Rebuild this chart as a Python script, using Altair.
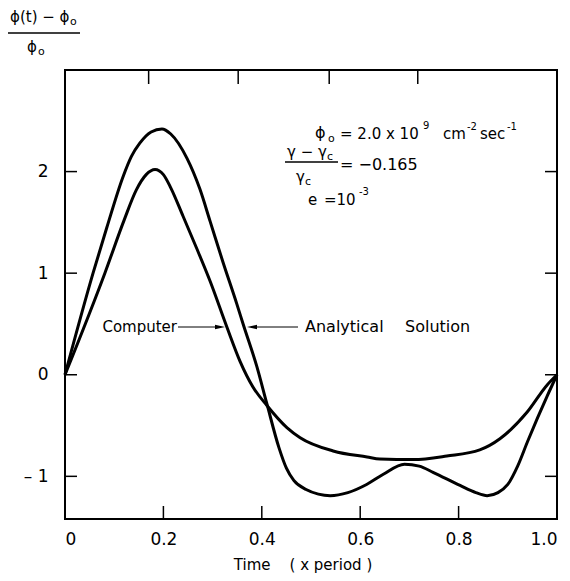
import altair as alt
import pandas as pd

# ---------------- data ----------------
time_analytical = [0.0, 0.057, 0.085, 0.118, 0.135, 0.152, 0.175, 0.197, 0.215, 0.248,
                   0.274, 0.295, 0.321, 0.349, 0.362, 0.39, 0.41, 0.435, 0.45, 0.465,
                   0.49, 0.515, 0.539, 0.575, 0.613, 0.647, 0.69, 0.72, 0.748, 0.803,
                   0.835, 0.858, 0.88, 0.9, 0.92, 0.94, 0.96, 0.98, 1.0]
phi_analytical = [0.0, 1.0, 1.45, 1.95, 2.15, 2.28, 2.39, 2.42, 2.37, 2.13,
                  1.83, 1.51, 1.11, 0.70, 0.50, 0.08, -0.28, -0.72, -0.92, -1.04,
                  -1.13, -1.175, -1.19, -1.16, -1.08, -0.98, -0.88, -0.90, -0.96, -1.09,
                  -1.16, -1.19, -1.16, -1.08, -0.90, -0.66, -0.43, -0.21, 0.0]

time_computer = [0.0, 0.081, 0.12, 0.145, 0.165, 0.183, 0.2, 0.215, 0.24, 0.268,
                 0.295, 0.329, 0.356, 0.382, 0.41, 0.451, 0.478, 0.545, 0.614, 0.64,
                 0.708, 0.776, 0.843, 0.884, 0.939, 0.98, 1.0]
phi_computer = [0.0, 1.0, 1.52, 1.82, 1.97, 2.02, 1.97, 1.84, 1.56, 1.24,
                0.92, 0.47, 0.13, -0.12, -0.30, -0.52, -0.62, -0.75, -0.81, -0.83,
                -0.835, -0.80, -0.74, -0.63, -0.37, -0.10, 0.0]

x_tick_values = [0, 0.2, 0.4, 0.6, 0.8, 1.0]
y_tick_values = [-1, 0, 1, 2]
top_tick_values = [0.17, 0.352, 0.537, 0.717]

# ---------------- layout ----------------
FONT = "DejaVu Sans"
W, H = 492, 449
xs = alt.Scale(domain=[0, 1], nice=False, zero=False)
ys = alt.Scale(domain=[-1.42, 3.0], nice=False, zero=False)

x_axis = alt.Axis(values=x_tick_values, domain=False, ticks=False, tickSize=0, grid=False,
                  labelFont=FONT, labelFontSize=17, labelColor="black", labelPadding=12,
                  labelExpr="datum.value == 0 ? '0' : format(datum.value, '.1f')",
                  title=None)
y_axis = alt.Axis(values=y_tick_values, domain=False, ticks=False, tickSize=0, grid=False,
                  labelFont=FONT, labelFontSize=17, labelColor="black", labelPadding=17,
                  labelExpr="datum.value < 0 ? '\u2013 ' + format(-datum.value, 'd') : format(datum.value, 'd')",
                  title=None)

curves = pd.DataFrame({
    "t": time_analytical + time_computer,
    "v": phi_analytical + phi_computer,
    "series": ["Analytical"] * len(time_analytical) + ["Computer"] * len(time_computer),
})

lines = alt.Chart(curves).mark_line(color="black", strokeWidth=3, interpolate="monotone").encode(
    x=alt.X("t:Q", scale=xs, axis=x_axis),
    y=alt.Y("v:Q", scale=ys, axis=y_axis),
    detail="series:N",
)

xt = pd.DataFrame({"t": x_tick_values[1:-1]})
tt = pd.DataFrame({"t": top_tick_values})
yt = pd.DataFrame({"v": y_tick_values})

bottom_ticks = alt.Chart(xt).mark_rule(color="black", strokeWidth=1.5).encode(
    x=alt.X("t:Q", scale=xs, axis=x_axis), y=alt.value(H), y2=alt.value(H - 13))
top_ticks = alt.Chart(tt).mark_rule(color="black", strokeWidth=1.5).encode(
    x=alt.X("t:Q", scale=xs, axis=x_axis), y=alt.value(0), y2=alt.value(14))
left_ticks = alt.Chart(yt).mark_rule(color="black", strokeWidth=1.5).encode(
    y=alt.Y("v:Q", scale=ys, axis=y_axis), x=alt.value(0), x2=alt.value(12))
right_ticks = alt.Chart(yt).mark_rule(color="black", strokeWidth=1.5).encode(
    y=alt.Y("v:Q", scale=ys, axis=y_axis), x=alt.value(W), x2=alt.value(W - 12))

dummy = pd.DataFrame({"a": [0]})


def txt(s, x, y, size, align="left"):
    return alt.Chart(dummy).mark_text(text=s, fontSize=size, font=FONT, color="black",
                                      align=align, baseline="middle").encode(
        x=alt.value(x), y=alt.value(y))


def hline(x1, x2, y, w=1.5):
    return alt.Chart(dummy).mark_rule(color="black", strokeWidth=w).encode(
        x=alt.value(x1), x2=alt.value(x2), y=alt.value(y))


def head(x, y, right=True):
    path = "M -1 -0.22 L 0 0 L -1 0.22 Z" if right else "M 1 -0.22 L 0 0 L 1 0.22 Z"
    return alt.Chart(dummy).mark_point(shape=path, filled=True, size=400, color="black",
                                       opacity=1).encode(x=alt.value(x), y=alt.value(y))


NB = "\u00a0"
annotations = [
    # y title (fraction)
    txt("\u03d5(t) \u2212 \u03d5", -55, -53, 15),
    txt("o", 5, -48, 11),
    hline(-58, 15, -37),
    txt("\u03d5", -38, -23, 15),
    txt("o", -27, -18, 11),
    # parameters
    txt("\u03d5", 250, 63, 16),
    txt("o", 263, 69, 11),
    txt("= 2.0 x 10", 275, 64, 15),
    txt("9", 358, 56, 10),
    txt("cm", 378, 64, 15),
    txt("-2", 402, 57, 10),
    txt("sec", 415, 64, 15),
    txt("-1", 442, 57, 10),
    txt("\u03b3 \u2212 \u03b3", 222, 82, 15),
    txt("c", 262, 87, 11),
    hline(220, 273, 92),
    txt("\u03b3", 231, 107, 15),
    txt("c", 240, 112, 11),
    txt("= \u22120.165", 275, 95, 16),
    txt("e", 243, 130, 15),
    txt("=10", 259, 130, 15),
    txt("-3", 294, 122, 10),
    # curve labels
    txt("Computer", 112, 257, 15, align="right"),
    hline(113, 156, 257, 1),
    head(160, 257, True),
    hline(186, 233, 257, 1),
    head(182, 257, False),
    txt("Analytical", 240, 257, 16),
    txt("Solution", 340, 257, 16),
    # x title
    txt("Time" + NB * 4 + "(" + NB + "x period" + NB + ")", 238, 495, 15, align="center"),
]

chart = alt.layer(lines, bottom_ticks, top_ticks, left_ticks, right_ticks, *annotations).properties(
    width=W, height=H,
    autosize=alt.AutoSizeParams(type="none"),
    padding={"left": 57, "top": 62, "right": 5, "bottom": 54},
    background="white",
).configure_view(stroke="black", strokeWidth=2)

chart.save("out.html", embed_options={"renderer": "svg", "actions": False})
